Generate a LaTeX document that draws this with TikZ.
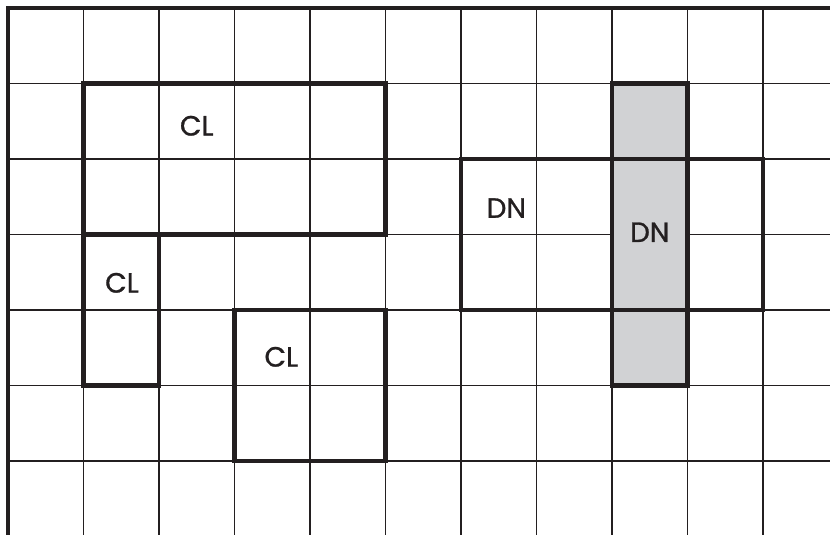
\documentclass[tikz,border=0pt]{standalone}
\usepackage{fontspec}
\newfontfamily\lblfont{Poppins}[FakeBold=1.0]
\definecolor{gridgrey}{HTML}{D1D2D4}
\definecolor{ink}{HTML}{231F20}
\begin{document}
\begin{tikzpicture}[x=37.75bp,y=-37.75bp,
  thinline/.style={draw=ink,line width=0.9bp},
  edge/.style={draw=ink,line width=1.6bp},
  thickbox/.style={draw=ink,line width=2.3bp,line join=miter},
  lbl/.style={font=\fontsize{14}{14}\lblfont,text=ink,inner sep=0pt}]
\useasboundingbox (-0.106,-0.106) rectangle (10.887,6.967);
\begin{scope}
\clip (-0.106,-0.106) rectangle (10.887,6.967);
\foreach \i in {1,...,10} \draw[thinline] (\i,0) -- (\i,7.2);
\foreach \j in {1,...,6} \draw[thinline] (0,\j) -- (11.2,\j);
\draw[edge] (0,7.2) -- (0,0) -- (11.2,0);
\end{scope}
\fill[gridgrey] (8,1) rectangle (9,5);
\draw[thickbox] (1,1) rectangle (5,3);
\draw[thickbox] (1,3) rectangle (2,5);
\draw[thickbox] (3,4) rectangle (5,6);
\draw[thickbox] (6,2) rectangle (10,4);
\draw[thickbox] (8,1) rectangle (9,5);
\node[lbl] (cla) at (2.50,1.56) {CL};
\node[lbl] (clb) at (1.51,3.64) {CL};
\node[lbl] (clc) at (3.62,4.62) {CL};
\node[lbl] (dna) at (6.60,2.65) {DN};
\node[lbl] (dnb) at (8.50,2.97) {DN};
\end{tikzpicture}
\end{document}
